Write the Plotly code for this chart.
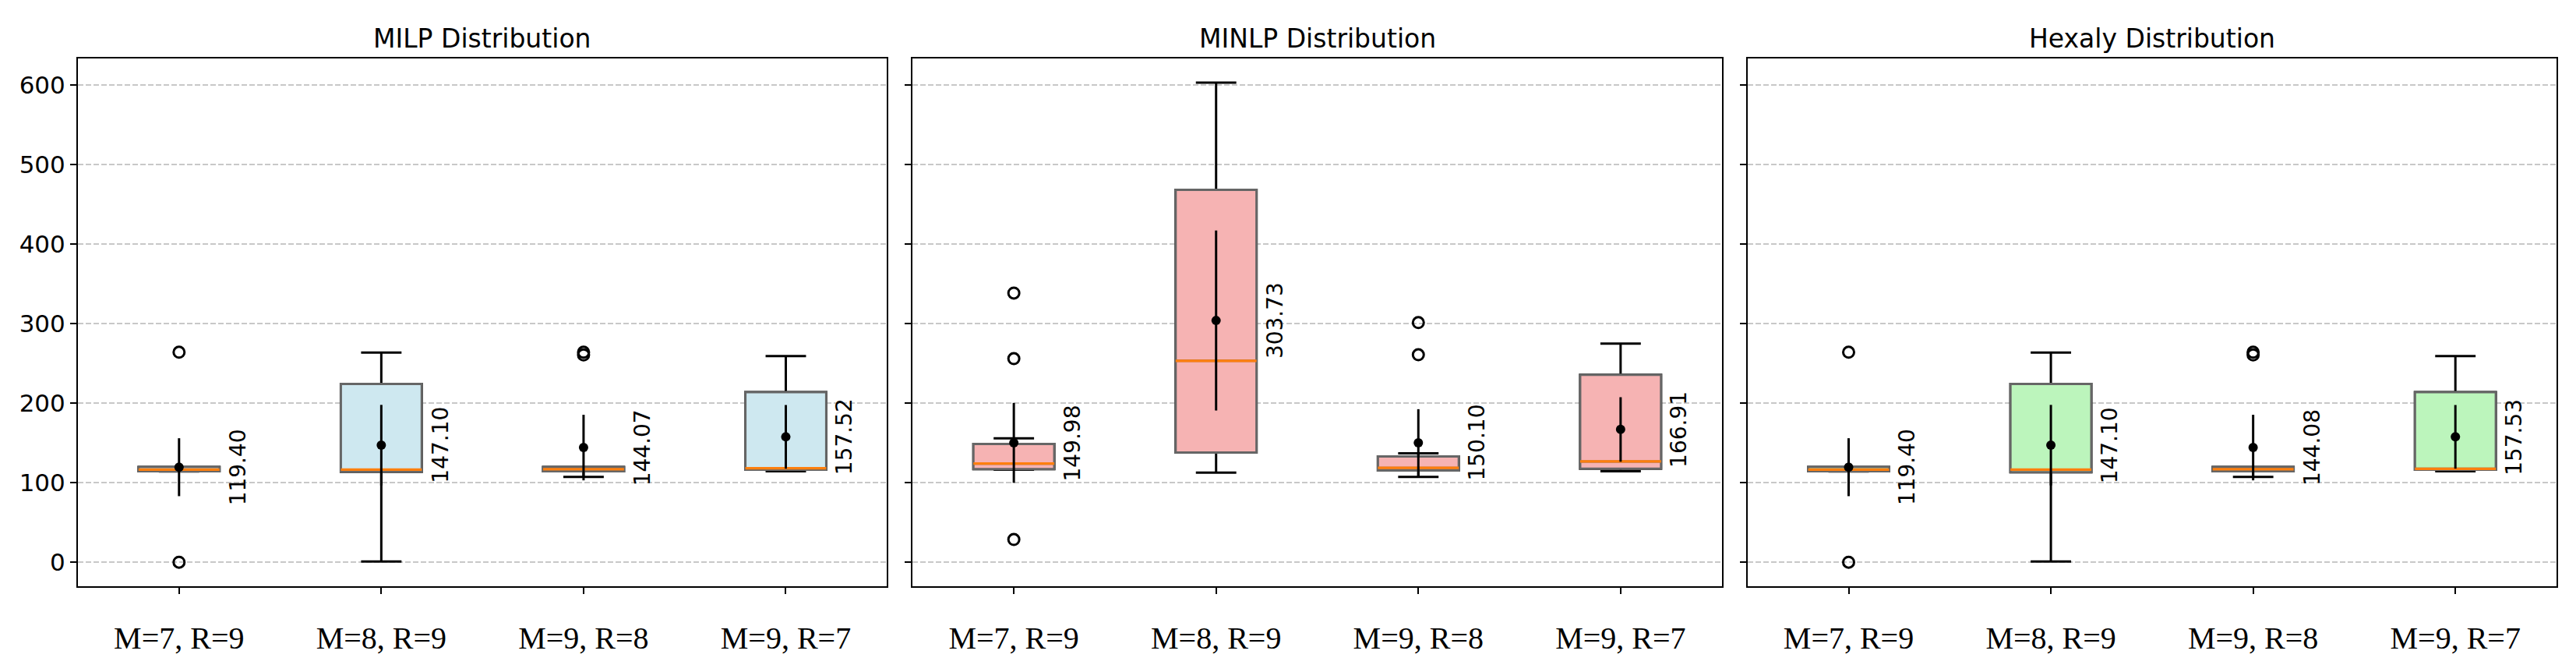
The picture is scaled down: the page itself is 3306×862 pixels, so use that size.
import plotly.graph_objects as go
from plotly.subplots import make_subplots

configs = ["M=7, R=9", "M=8, R=9", "M=9, R=8", "M=9, R=7"]
titles = ["MILP Distribution", "MINLP Distribution", "Hexaly Distribution"]

# box stats
milp_q1 = [114.2, 113.6, 114.2, 116.3]
milp_med = [116.3, 116.3, 116.9, 118.0]
milp_q3 = [119.6, 224.1, 119.6, 213.8]
milp_lo = [114.0, 1.0, 107.2, 114.2]
milp_hi = [119.6, 263.4, 119.6, 259.1]
milp_mean = [119.40, 147.10, 144.07, 157.52]
milp_std = [36.4, 50.6, 41.2, 40.0]
milp_out = [[263.9, 0.0], [], [263.9, 260.5], []]

minlp_q1 = [116.9, 137.9, 115.3, 117.4]
minlp_med = [123.9, 253.1, 118.5, 126.6]
minlp_q3 = [148.7, 468.0, 133.0, 235.4]
minlp_lo = [116.3, 112.6, 107.2, 114.2]
minlp_hi = [155.7, 602.7, 136.8, 274.7]
minlp_mean = [149.98, 303.73, 150.10, 166.91]
minlp_std = [50.2, 113.1, 42.2, 40.5]
minlp_out = [[338.2, 255.8, 28.5], [], [301.1, 260.7], []]

hex_q1 = [114.2, 113.1, 114.2, 116.3]
hex_med = [116.3, 116.3, 116.9, 117.4]
hex_q3 = [119.6, 224.1, 119.6, 213.8]
hex_lo = [114.0, 1.0, 107.2, 114.2]
hex_hi = [119.6, 263.4, 119.6, 259.1]
hex_mean = [119.40, 147.10, 144.08, 157.53]
hex_std = [36.4, 50.6, 41.2, 40.0]
hex_out = [[263.9, 0.0], [], [263.9, 260.5], []]

panels = [
    (milp_q1, milp_med, milp_q3, milp_lo, milp_hi, milp_mean, milp_std, milp_out, "#CEE8F0"),
    (minlp_q1, minlp_med, minlp_q3, minlp_lo, minlp_hi, minlp_mean, minlp_std, minlp_out, "#F6B3B3"),
    (hex_q1, hex_med, hex_q3, hex_lo, hex_hi, hex_mean, hex_std, hex_out, "#BCF5BC"),
]

fig = make_subplots(rows=1, cols=3, shared_yaxes=True,
                    horizontal_spacing=0.0104, subplot_titles=titles)

for c, (q1, med, q3, lo, hi, mean, std, outl, fill) in enumerate(panels, start=1):
    # whiskers + caps (black)
    fig.add_trace(go.Box(x=configs, q1=q1, median=med, q3=q3,
                         lowerfence=lo, upperfence=hi, width=0.4,
                         whiskerwidth=0.5, fillcolor=fill,
                         line=dict(color="black", width=3),
                         hoverinfo="skip", showlegend=False), row=1, col=c)
    # box body with gray edge
    fig.add_trace(go.Box(x=configs, q1=q1, median=med, q3=q3,
                         lowerfence=q1, upperfence=q3, width=0.4,
                         whiskerwidth=0.5, fillcolor=fill,
                         line=dict(color="#666666", width=3),
                         hoverinfo="skip", showlegend=False), row=1, col=c)
    # orange median
    fig.add_trace(go.Box(x=configs, q1=med, median=med, q3=med,
                         lowerfence=med, upperfence=med, width=0.4,
                         whiskerwidth=1, fillcolor="rgba(0,0,0,0)",
                         line=dict(color="#FF7F0E", width=3.3),
                         hoverinfo="skip", showlegend=False), row=1, col=c)
    # outliers
    ox, oy = [], []
    for lab, vals in zip(configs, outl):
        for v in vals:
            ox.append(lab)
            oy.append(v)
    fig.add_trace(go.Scatter(x=ox, y=oy, mode="markers",
                             marker=dict(symbol="circle-open", size=14, color="black",
                                         line=dict(width=3, color="black")),
                             showlegend=False), row=1, col=c)
    # mean +- std
    fig.add_trace(go.Scatter(x=configs, y=mean, mode="markers",
                             marker=dict(size=12, color="black"),
                             error_y=dict(type="data", array=std, color="black",
                                          thickness=3, width=0),
                             showlegend=False), row=1, col=c)
    # mean labels
    xref = "x" if c == 1 else "x%d" % c
    yref = "y" if c == 1 else "y%d" % c
    for i, m in enumerate(mean):
        fig.add_annotation(x=i + 0.29, y=m, xref=xref, yref=yref,
                           text="%.2f" % m, textangle=-90, showarrow=False,
                           xanchor="center", yanchor="middle",
                           font=dict(family="DejaVu Sans", size=28, color="black"))

for t in titles:
    fig.update_annotations(selector=dict(text=t), yshift=4,
                           font=dict(family="DejaVu Sans", size=33, color="black"))

fig.update_xaxes(type="category", range=[-0.5, 3.5], showline=True, mirror=True,
                 linecolor="black", linewidth=2, ticks="outside", ticklen=8,
                 tickwidth=2, tickcolor="black", showgrid=False,
                 ticklabelstandoff=22,
                 tickfont=dict(family="Liberation Serif", size=40, color="black"))
fig.update_yaxes(range=[-30.2, 633], tickvals=[0, 100, 200, 300, 400, 500, 600],
                 showline=True, mirror=True, linecolor="black", linewidth=2,
                 ticks="outside", ticklen=8, tickwidth=2, tickcolor="black",
                 showgrid=True, gridcolor="#C8C8C8", gridwidth=2,
                 griddash="7px,3px", zeroline=False,
                 tickfont=dict(family="DejaVu Sans", size=31, color="black"))

fig.update_layout(width=3306, height=862, boxmode="overlay",
                  plot_bgcolor="white", paper_bgcolor="white",
                  margin=dict(l=92, r=33, t=67, b=118))

fig.write_html("out.html")
